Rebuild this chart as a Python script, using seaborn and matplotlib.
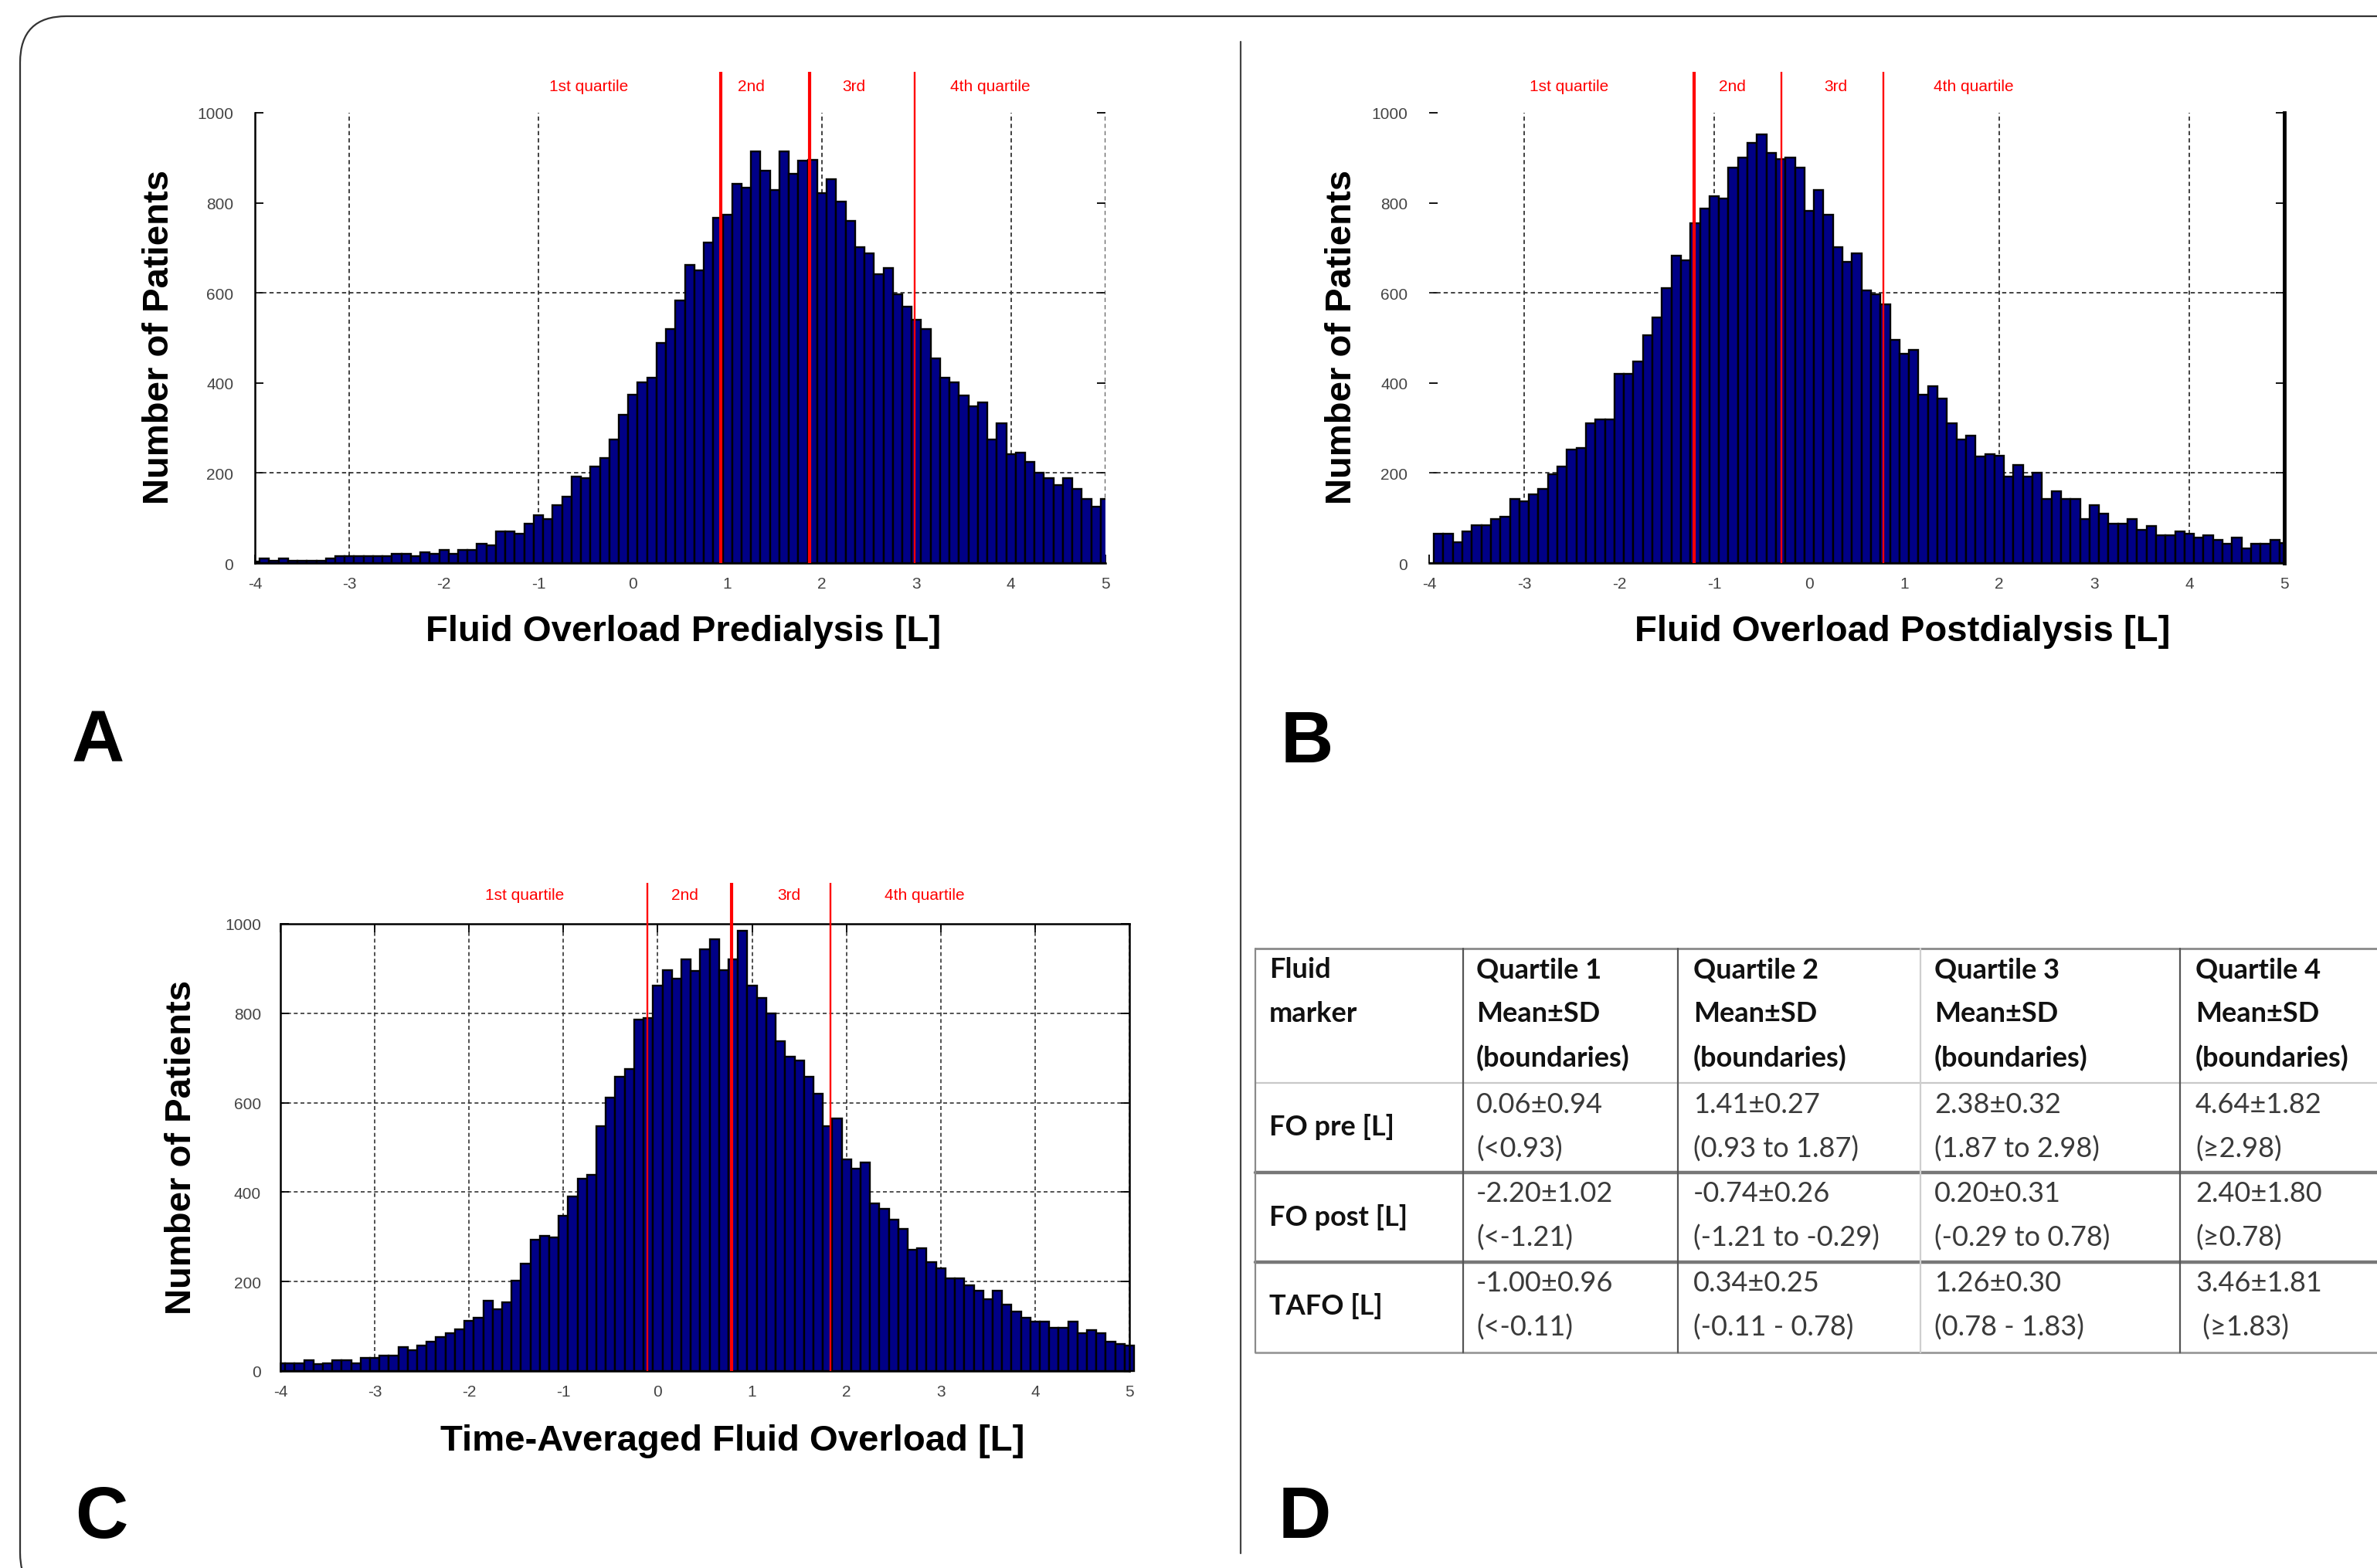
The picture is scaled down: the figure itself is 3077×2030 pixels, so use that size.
import numpy as np
import pandas as pd
import matplotlib
matplotlib.use("Agg")
import matplotlib.pyplot as plt
import seaborn as sns
from matplotlib.patches import FancyBboxPatch
from matplotlib.lines import Line2D
from matplotlib.transforms import IdentityTransform

# ---------------- data ----------------
bin_centers = np.round(np.arange(-40, 51) / 10.0, 1)          # -4.0 ... 5.0 (bin width 0.1)
bin_width = 0.1
bin_range = (-4.05, 5.05)

fo_pre_counts = [4, 10, 6, 10, 6, 5, 5, 6, 11, 15,
                 15, 15, 15, 15, 15, 20, 20, 16, 24, 21,
                 29, 21, 29, 29, 43, 40, 70, 70, 65, 87,
                 106, 97, 129, 147, 192, 189, 215, 233, 274, 329,
                 374, 401, 411, 488, 519, 583, 662, 650, 711, 766,
                 774, 842, 834, 915, 871, 829, 915, 865, 894, 896,
                 821, 852, 802, 760, 701, 687, 641, 655, 597, 570,
                 541, 519, 455, 411, 402, 373, 348, 356, 275, 310,
                 242, 246, 224, 200, 189, 173, 189, 165, 142, 125, 142]

fo_post_counts = [0, 65, 65, 47, 70, 84, 84, 97, 103, 143,
                  137, 152, 165, 198, 215, 252, 256, 310, 319, 319,
                  421, 421, 447, 506, 546, 610, 683, 673, 755, 787,
                  815, 810, 878, 901, 933, 952, 911, 897, 901, 878,
                  783, 829, 773, 701, 669, 687, 606, 597, 574, 496,
                  465, 473, 374, 392, 365, 310, 274, 283, 236, 242,
                  238, 192, 218, 192, 200, 143, 160, 143, 143, 97,
                  128, 109, 87, 87, 97, 74, 82, 61, 61, 70,
                  65, 56, 61, 52, 43, 56, 33, 43, 43, 52, 45]

tafo_counts = [17, 17, 17, 25, 15, 17, 25, 25, 17, 30,
               30, 34, 34, 53, 47, 57, 66, 76, 84, 94,
               112, 120, 158, 139, 154, 202, 240, 294, 302, 299,
               348, 390, 430, 439, 548, 612, 658, 675, 785, 789,
               861, 897, 878, 920, 894, 943, 966, 897, 920, 985,
               861, 834, 800, 738, 703, 694, 658, 620, 548, 564,
               474, 452, 466, 375, 363, 338, 317, 271, 275, 243,
               230, 207, 207, 192, 179, 161, 179, 148, 133, 119,
               110, 110, 97, 97, 110, 84, 91, 84, 66, 61, 57]

fo_pre_bounds = [0.93, 1.87, 2.98]
fo_post_bounds = [-1.21, -0.29, 0.78]
tafo_bounds = [-0.11, 0.78, 1.83]

quartile_labels = ["1st quartile", "2nd", "3rd", "4th quartile"]
x_ticks = [-4, -3, -2, -1, 0, 1, 2, 3, 4, 5]
y_ticks = [0, 200, 400, 600, 800, 1000]

x_titles = ["Fluid Overload Predialysis [L]", "Fluid Overload Postdialysis [L]",
            "Time-Averaged Fluid Overload [L]"]
y_title = "Number of Patients"
panel_letters = ["A", "B", "C", "D"]

table_header = [["Fluid", "marker"],
                ["Quartile 1", "Mean\u00b1SD", "(boundaries)"],
                ["Quartile 2", "Mean\u00b1SD", "(boundaries)"],
                ["Quartile 3", "Mean\u00b1SD", "(boundaries)"],
                ["Quartile 4", "Mean\u00b1SD", "(boundaries)"]]
table_row_labels = ["FO pre [L]", "FO post [L]", "TAFO [L]"]
table_cells = [
    [["0.06\u00b10.94", "(<0.93)"], ["1.41\u00b10.27", "(0.93 to 1.87)"],
     ["2.38\u00b10.32", "(1.87 to 2.98)"], ["4.64\u00b11.82", "(\u22652.98)"]],
    [["-2.20\u00b11.02", "(<-1.21)"], ["-0.74\u00b10.26", "(-1.21 to -0.29)"],
     ["0.20\u00b10.31", "(-0.29 to 0.78)"], ["2.40\u00b11.80", "(\u22650.78)"]],
    [["-1.00\u00b10.96", "(<-0.11)"], ["0.34\u00b10.25", "(-0.11 - 0.78)"],
     ["1.26\u00b10.30", "(0.78 - 1.83)"], ["3.46\u00b11.81", " (\u22651.83)"]],
]

# ---------------- style ----------------
sns.set_style("white")
plt.rcParams["font.family"] = ["Liberation Sans", "DejaVu Sans"]
plt.rcParams["axes.unicode_minus"] = False

W, H = 3077, 2031
fig = plt.figure(figsize=(W / 100, H / 100), dpi=100)


def fx(x):
    return x / W


def fy(y):
    return 1 - y / H


def make_axes(l, t, r, b):
    return fig.add_axes([fx(l), fy(b), (r - l) / W, (b - t) / H])


NAVY = "#000086"
GRID_LS = (0, (3, 2.2))


def draw_panel(ax, counts, bounds, widths, label_pos, line_top, label_y, full_grid):
    df = pd.DataFrame({"fo": bin_centers, "n": np.asarray(counts, dtype=float)})
    sns.histplot(data=df, x="fo", weights="n", binwidth=bin_width, binrange=bin_range,
                 ax=ax, color=NAVY, edgecolor="black", linewidth=1.7, alpha=1.0, zorder=2)
    ax.set_xlim(-4, 5)
    ax.set_ylim(0, 1000)
    ax.set_xticks(x_ticks)
    ax.set_yticks(y_ticks)
    ax.set_xlabel("")
    ax.set_ylabel("")
    ax.set_facecolor("white")
    if full_grid:
        ax.set_axisbelow(True)
        ax.grid(True, color="#333333", ls=GRID_LS, lw=1.2)
    else:
        for xv in [-3, -1, 2, 4, 5]:
            ax.axvline(xv, color="#333333", ls=GRID_LS, lw=1.3, zorder=1)
        for yv in [200, 600]:
            ax.axhline(yv, color="#333333", ls=GRID_LS, lw=1.3, zorder=1)
    tr = ax.get_xaxis_transform()
    for b, w in zip(bounds, widths):
        ax.plot([b, b], [0, line_top], transform=tr, color="red", lw=w,
                clip_on=False, zorder=6, solid_capstyle="butt")
    for txt, xp in zip(quartile_labels, label_pos):
        ax.text(xp, label_y, txt, transform=tr, color="red", fontsize=15,
                ha="center", va="center")
    ax.tick_params(axis="both", direction="in", length=8, width=1.3,
                   labelsize=15, labelcolor="#444444", color="black",
                   bottom=True, left=True, right=True)
    ax.tick_params(axis="y", pad=20)
    ax.tick_params(axis="x", pad=12)


# Panel A
axA = make_axes(330, 147, 1431, 730)
draw_panel(axA, fo_pre_counts, fo_pre_bounds, [3.0, 3.0, 1.7],
           [-0.47, 1.25, 2.34, 3.78], 1.091, 1.060, False)
for s in ["top", "right"]:
    axA.spines[s].set_visible(False)
for s in ["left", "bottom"]:
    axA.spines[s].set_color("black")
    axA.spines[s].set_linewidth(1.8)

# Panel B
axB = make_axes(1850, 147, 2957, 730)
draw_panel(axB, fo_post_counts, fo_post_bounds, [3.0, 1.7, 1.7],
           [-2.53, -0.81, 0.28, 1.73], 1.091, 1.060, False)
for s in ["top", "left"]:
    axB.spines[s].set_visible(False)
axB.spines["bottom"].set_color("black")
axB.spines["bottom"].set_linewidth(1.8)
axB.spines["right"].set_visible(True)
axB.spines["right"].set_color("black")
axB.spines["right"].set_linewidth(3.5)

# Panel C
axC = make_axes(363, 1197, 1462, 1776)
draw_panel(axC, tafo_counts, tafo_bounds, [1.7, 3.0, 1.7],
           [-1.41, 0.29, 1.39, 2.83], 1.0915, 1.064, True)
for s in axC.spines.values():
    s.set_visible(True)
    s.set_color("black")
    s.set_linewidth(1.8)
axC.tick_params(axis="x", top=True, pad=12)
axC.tick_params(axis="y", pad=18)
axC.patches[-1].set_clip_on(False)

# axis titles
bold = dict(fontsize=34, fontweight="bold", color="black")
fig.text(fx(885), fy(818), x_titles[0], ha="center", va="center", **bold)
fig.text(fx(2463), fy(818), x_titles[1], ha="center", va="center", **bold)
fig.text(fx(948), fy(1866), x_titles[2], ha="center", va="center", **bold)
fig.text(fx(206), fy(436), y_title, ha="center", va="center", rotation=90, **bold)
fig.text(fx(1737), fy(436), y_title, ha="center", va="center", rotation=90, **bold)
fig.text(fx(235), fy(1485), y_title, ha="center", va="center", rotation=90, **bold)

# panel letters
for letter, (px, py) in zip(panel_letters, [(127, 987), (1692, 987), (131, 1991), (1689, 1991)]):
    fig.text(fx(px), fy(py), letter, ha="center", va="baseline",
             fontsize=68, fontweight="bold", color="black")

# table D
col_left = [1625, 1894, 2172, 2486, 2822]
text_x = [1643, 1911, 2192, 2504, 2842]
tab_top, tab_bottom = 1229, 1752
hlines = [(1229, "#8a8a8a", 2.0), (1403, "#c8c8c8", 1.6), (1519, "#777777", 3.2),
          (1635, "#777777", 3.2), (1752, "#999999", 2.0)]
for yv, c, lw in hlines:
    fig.add_artist(Line2D([fx(1625), 1.0], [fy(yv), fy(yv)], transform=fig.transFigure,
                          color=c, lw=lw))
for xv, c in zip(col_left, ["#8a8a8a", "#555555", "#555555", "#cfcfcf", "#555555"]):
    fig.add_artist(Line2D([fx(xv), fx(xv)], [fy(tab_top), fy(tab_bottom)],
                          transform=fig.transFigure, color=c, lw=1.6))

tfont = ["Lato", "DejaVu Sans"]
header_y = [1256, 1313, 1370]
for ci, lines in enumerate(table_header):
    for li, t in enumerate(lines):
        fig.text(fx(text_x[ci]), fy(header_y[li]), t, ha="left", va="center",
                 fontsize=26, fontweight="bold", family=tfont, color="#111111")
row_label_y = [1459, 1576, 1691]
row_line_y = [(1431, 1488), (1546, 1603), (1662, 1719)]
for ri, lab in enumerate(table_row_labels):
    fig.text(fx(text_x[0]), fy(row_label_y[ri]), lab, ha="left", va="center",
             fontsize=26, fontweight="bold", family=tfont, color="#111111")
    for ci, cell in enumerate(table_cells[ri]):
        for li, t in enumerate(cell):
            fig.text(fx(text_x[ci + 1]), fy(row_line_y[ri][li]), t, ha="left", va="center",
                     fontsize=26, family=tfont, color="#3a3a3a")

# divider and frame (frame runs off the right and bottom edges)
fig.add_artist(Line2D([fx(1606), fx(1606)], [fy(55), fy(2012)], transform=fig.transFigure,
                      color="#444444", lw=1.6))
frame = FancyBboxPatch((26, -40), 3400, 2049, boxstyle="round,pad=0,rounding_size=60",
                       transform=IdentityTransform(), fill=False, ec="#333333", lw=1.6)
fig.add_artist(frame)

fig.savefig("out.png", dpi=100, facecolor="white")
